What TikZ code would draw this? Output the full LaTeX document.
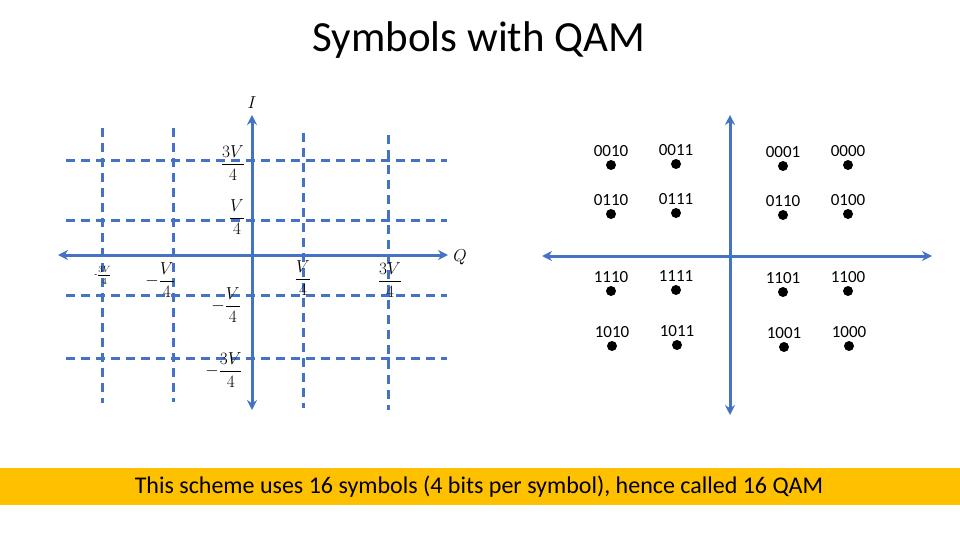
\documentclass[tikz,border=0pt]{standalone}
\usepackage{fontspec}
\setmainfont{Carlito}
\usepackage{amsmath}
\usetikzlibrary{arrows.meta}
\definecolor{ax}{HTML}{4472C4}
\definecolor{band}{HTML}{FFC000}
\tikzset{axis/.style={ax,line width=3pt,{Stealth[length=10pt,width=10pt]}-{Stealth[length=10pt,width=10pt]}},
 grid/.style={ax,line width=3pt,dash pattern=on 9pt off 6pt},
 dot/.style={circle,fill=black,inner sep=0pt,minimum size=10pt},
 bits/.style={font=\fontsize{17}{19}\selectfont},
 lab/.style={font=\fontsize{17}{19}\selectfont,inner sep=1pt}}
\begin{document}
\begin{tikzpicture}[x=1pt,y=-1pt]
\useasboundingbox (0,0) rectangle (960,540);
\node (title) at (479,40) {\fontsize{43}{48}\selectfont Symbols with QAM};
% left grid
\foreach \x/\a/\b in {102/128/403,173/128/402,303/133/408,388/135/410}
  \draw[grid] (\x,\a) -- (\x,\b);
\foreach \y in {161,220,295,358}
  \draw[grid] (66,\y) -- (447,\y);
\coordinate (it) at (252,115); \coordinate (ib) at (252,410);
\coordinate (ql) at (58,255); \coordinate (qr) at (448,255);
\draw[axis] (it) -- (ib);
\draw[axis] (ql) -- (qr);
\node[lab] (I) at (252,103) {$I$};
\node[lab] (Q) at (460,257) {$Q$};
\node[lab] (l1) at (233,163) {$\dfrac{3V}{4}$};
\node[lab] (l2) at (237,217) {$\dfrac{V}{4}$};
\node (l3) at (103,275) {\fontsize{9}{10}\selectfont -$\dfrac{3V}{4}$};
\node[lab] (l4) at (160,280) {$-\dfrac{V}{4}$};
\node[lab] (l5) at (303,278) {$\dfrac{V}{4}$};
\node[lab] (l6) at (390,280) {$\dfrac{3V}{4}$};
\node[lab] (l7) at (226,305) {$-\dfrac{V}{4}$};
\node[lab] (l8) at (224,370) {$-\dfrac{3V}{4}$};
% right constellation
\coordinate (rt) at (730,115); \coordinate (rb) at (730,415);
\coordinate (rl) at (542,256); \coordinate (rr) at (932,256);
\draw[axis] (rt) -- (rb);
\draw[axis] (rl) -- (rr);
\foreach \lab/\x/\y/\n in {0010/611/165/a,0011/676/164/b,0001/783/166/c,0000/848/165/d,
 0110/611/214/e,0111/676/213/f,0110/783/215/g,0100/848/214/h,
 1110/611/291/i,1111/676/290/j,1101/783/292/k,1100/848/291/l,
 1010/612/346/m,1011/677/345/n,1001/784/347/o,1000/849/346/p}{
  \node[dot] (d\n) at (\x,\y) {};
  \node[bits,above=0pt] (t\n) at (d\n.north) {\lab};
}
\fill[band] (0,468) rectangle (960,505);
\node (foot) at (479,487) {\fontsize{24}{28}\selectfont This scheme uses 16 symbols (4 bits per symbol), hence called 16 QAM};
\end{tikzpicture}
\end{document}
